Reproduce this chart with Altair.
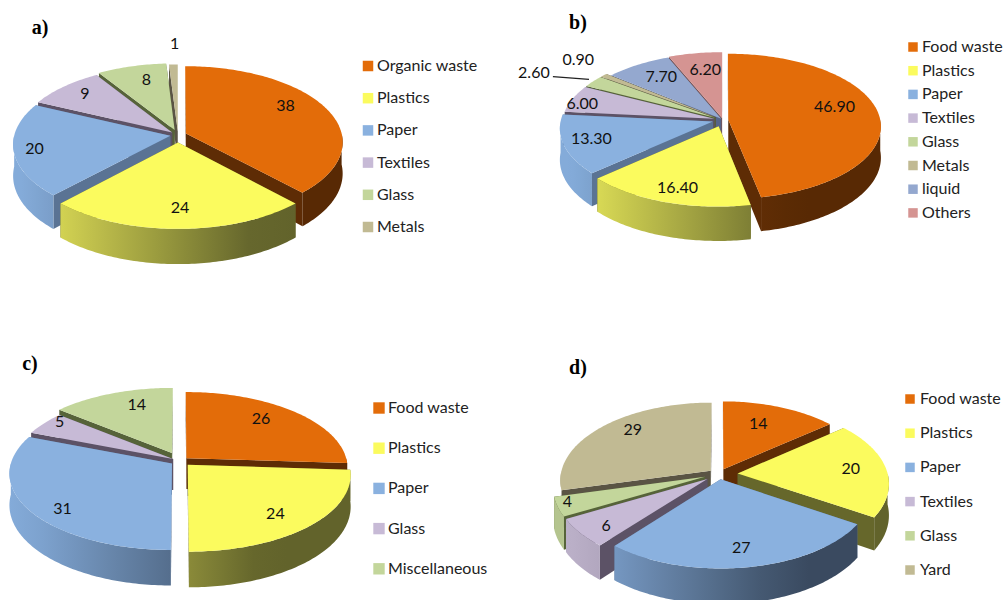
import math
import altair as alt
import pandas as pd

# Waste composition of four cities, one tilted pie per panel
panel_ids = ["a)", "b)", "c)", "d)"]
cats_a = ["Organic waste", "Plastics", "Paper", "Textiles", "Glass", "Metals"]
vals_a = [38, 24, 20, 9, 8, 1]
text_a = ["38", "24", "20", "9", "8", "1"]
cats_b = ["Food waste", "Plastics", "Paper", "Textiles", "Glass", "Metals", "liquid", "Others"]
vals_b = [46.90, 16.40, 13.30, 6.00, 2.60, 0.90, 7.70, 6.20]
text_b = ["46.90", "16.40", "13.30", "6.00", "2.60", "0.90", "7.70", "6.20"]
cats_c = ["Food waste", "Plastics", "Paper", "Glass", "Miscellaneous"]
vals_c = [26, 24, 31, 5, 14]
text_c = ["26", "24", "31", "5", "14"]
cats_d = ["Food waste", "Plastics", "Paper", "Textiles", "Glass", "Yard"]
vals_d = [14, 20, 27, 6, 4, 29]
text_d = ["14", "20", "27", "6", "4", "29"]

# hue name: top face, side face, rim ramp light, rim ramp dark
HUES = {
    "orange": ("#E36C09", "#5E2C05", "#8A4208", "#582904"),
    "yellow": ("#FBFB5E", "#66672B", "#E8E85A", "#62632B"),
    "blue": ("#8AB1DF", "#5A7394", "#84ABD9", "#3A4A60"),
    "purple": ("#C7BAD6", "#5C5266", "#BBB0C8", "#7A7088"),
    "green": ("#C3D69B", "#566339", "#B4C48E", "#5B6B3F"),
    "tan": ("#C1BA93", "#5A5444", "#B0AA86", "#6A6650"),
    "slate": ("#94A8CF", "#566488", "#8A9CC0", "#566488"),
    "rose": ("#D59492", "#7A5050", "#C08684", "#7A5050"),
}

PANELS = [
    dict(cats=cats_a, vals=vals_a, text=text_a,
         hues=["orange", "yellow", "blue", "purple", "green", "tan"],
         cx=178, cy=135, rx=156, ry=75, p=0.11, depth=31,
         explode=[0.055, 0.10, 0.05, 0.05, 0.07, 0.05],
         nudge=[(4, -9), (2, 9), (-30, 4), (-12, -7), (2, -5), (0, -40)],
         title=(40, 28), legend=(368, 66, 32.2, 377, 110)),
    dict(cats=cats_b, vals=vals_b, text=text_b,
         hues=["orange", "yellow", "blue", "purple", "green", "tan", "slate", "rose"],
         cx=723, cy=120, rx=152, ry=72, p=0.09, depth=31,
         explode=[0.035, 0.09, 0.07, 0.06, 0.06, 0.06, 0.02, 0.03],
         nudge=[(4, -8), (-6, 12), (-21, 2), (-35, -1), (-97, -20), (-60, -28), (-2, -4), (2, -3)],
         title=(578, 23), legend=(913, 47, 23.7, 922, 90)),
    dict(cats=cats_c, vals=vals_c, text=text_c,
         hues=["orange", "yellow", "blue", "purple", "green"],
         cx=180, cy=461, rx=160.5, ry=75, p=0.124, depth=31,
         explode=[0.055, 0.07, 0.06, 0.05, 0.12],
         nudge=[(0, -6), (7, 9), (-14, 15), (-24, -12), (7, -6)],
         title=(30, 364), legend=(379, 408, 40.2, 388, 130)),
    dict(cats=cats_d, vals=vals_d, text=text_d,
         hues=["orange", "yellow", "blue", "purple", "green", "tan"],
         cx=719, cy=474, rx=150, ry=77, p=0.12, depth=31,
         explode=[0.07, 0.125, 0.07, 0.10, 0.10, 0.07],
         nudge=[(-5, -2), (12, -1), (3, 11), (-17, 11), (-39, 5), (-2, -10)],
         title=(578, 368), legend=(910, 399, 34.2, 920, 90)),
]


def screen(pie, X, Y, z=0.0):
    """Perspective projection of a point on the unit pie disc."""
    w = 1 + pie["p"] * Y
    return (pie["cx"] + pie["rx"] * X / w,
            pie["cy"] - pie["ry"] * Y / w + pie["depth"] * z / w)


def feature(points):
    ring = [list(pt) for pt in points] + [list(points[0])]
    return {"type": "Feature", "properties": {},
            "geometry": {"type": "Polygon", "coordinates": [ring]}}


def mix(c1, c2, s):
    a = [int(c1[i:i + 2], 16) for i in (1, 3, 5)]
    b = [int(c2[i:i + 2], 16) for i in (1, 3, 5)]
    return "#" + "".join(f"{round(u + (v - u) * s):02x}" for u, v in zip(a, b))


def degrees_between(t0, t1, step=1.0):
    n = max(2, int(math.ceil((t1 - t0) / step)) + 1)
    return [t0 + (t1 - t0) * i / (n - 1) for i in range(n)]


PROJ = dict(type="identity", scale=1, translate=[0, 0])


def shape_layer(points, fill):
    return (alt.Chart(alt.Data(values=[feature(points)]))
            .mark_geoshape(fill=fill, strokeWidth=0)
            .project(**PROJ))


layers = []
label_rows, legend_rows, title_rows = [], [], []
leader_rows = []

for panel_id, pie in zip(panel_ids, PANELS):
    total = sum(pie["vals"])
    title_rows.append({"x": pie["title"][0], "y": pie["title"][1], "t": panel_id})

    slices = []
    acc = 0.0
    for i, v in enumerate(pie["vals"]):
        t0, t1 = 360 * acc / total, 360 * (acc + v) / total
        acc += v
        mid = math.radians((t0 + t1) / 2)
        e = pie["explode"][i]
        slices.append(dict(i=i, t0=t0, t1=t1, mid=mid,
                           ax=e * math.sin(mid), ay=e * math.cos(mid)))

    # Paint from the back of the disc to the front
    for s in sorted(slices, key=lambda q: -math.cos(q["mid"])):
        top, side, light, dark = HUES[pie["hues"][s["i"]]]
        ax, ay = s["ax"], s["ay"]

        def rim(t, z=0.0):
            r = math.radians(t)
            return screen(pie, ax + math.sin(r), ay + math.cos(r), z)

        for t in (s["t0"], s["t1"]):
            layers.append(shape_layer(
                [screen(pie, ax, ay), rim(t), rim(t, 1), screen(pie, ax, ay, 1)], side))

        lo, hi = max(s["t0"], 90), min(s["t1"], 270)
        if hi > lo:
            ts = degrees_between(lo, hi)
            wall = [rim(t) for t in ts] + [rim(t, 1) for t in reversed(ts)]
            xs = [q[0] for q in wall]
            x0, x1 = min(xs), max(xs)
            left, span = pie["cx"] - pie["rx"], 2 * pie["rx"] * 0.75
            stops = []
            for k in range(6):
                o = k / 5
                shade = min(1.0, max(0.0, (x0 + (x1 - x0) * o - left) / span))
                stops.append(alt.GradientStop(offset=o, color=mix(light, dark, shade)))
            layers.append(shape_layer(wall, alt.LinearGradient(
                gradient="linear", x1=0, x2=1, y1=0, y2=0, stops=stops)))

        ts = degrees_between(s["t0"], s["t1"])
        layers.append(shape_layer([screen(pie, ax, ay)] + [rim(t) for t in ts], top))

        # Value label sits along the slice's middle direction
        lx, ly = screen(pie, ax + 0.68 * math.sin(s["mid"]), ay + 0.68 * math.cos(s["mid"]))
        nx, ny = pie["nudge"][s["i"]]
        label_rows.append({"x": lx + nx, "y": ly + ny, "t": pie["text"][s["i"]]})

        # The thin 2.60 slice is too narrow for its label, so a leader line joins them
        if pie["text"][s["i"]] == "2.60":
            ex, ey = rim((s["t0"] + s["t1"]) / 2)
            leader_rows.append({"x": lx + nx + 19, "y": ly + ny + 4, "x2": ex - 4, "y2": ey - 2})

    sx, sy, step, tx, area = pie["legend"]
    for j, (cat, hue) in enumerate(zip(pie["cats"], pie["hues"])):
        legend_rows.append({"x": sx, "y": sy + j * step, "tx": tx, "t": cat,
                            "c": HUES[hue][0], "a": area})

x_scale = alt.Scale(domain=[0, 1005])
y_scale = alt.Scale(domain=[600, 0])
x_enc = alt.X("x:Q", scale=x_scale, axis=None)
y_enc = alt.Y("y:Q", scale=y_scale, axis=None)

leaders = alt.Chart(pd.DataFrame(leader_rows)).mark_rule(
    color="#222222", strokeWidth=1.2).encode(x=x_enc, y=y_enc, x2="x2:Q", y2="y2:Q")
labels = alt.Chart(pd.DataFrame(label_rows)).mark_text(
    font="Lato", fontSize=16, color="#111111").encode(x=x_enc, y=y_enc, text="t:N")
titles = alt.Chart(pd.DataFrame(title_rows)).mark_text(
    font="Liberation Serif", fontSize=20, fontWeight="bold", color="#000000"
).encode(x=x_enc, y=y_enc, text="t:N")
legend_df = pd.DataFrame(legend_rows)
swatches = alt.Chart(legend_df).mark_square(opacity=1).encode(
    x=x_enc, y=y_enc,
    color=alt.Color("c:N", scale=None),
    size=alt.Size("a:Q", scale=None))
legend_text = alt.Chart(legend_df).mark_text(
    font="Lato", fontSize=16, align="left", color="#222222"
).encode(x=alt.X("tx:Q", scale=x_scale, axis=None), y=y_enc, text="t:N")

chart = alt.layer(*layers, leaders, labels, titles, swatches, legend_text).properties(
    width=1005, height=600, padding=0,
    autosize=alt.AutoSizeParams(type="none"), background="white"
).configure_view(stroke=None)

chart.save("out.html", embed_options={"renderer": "svg", "actions": False})
